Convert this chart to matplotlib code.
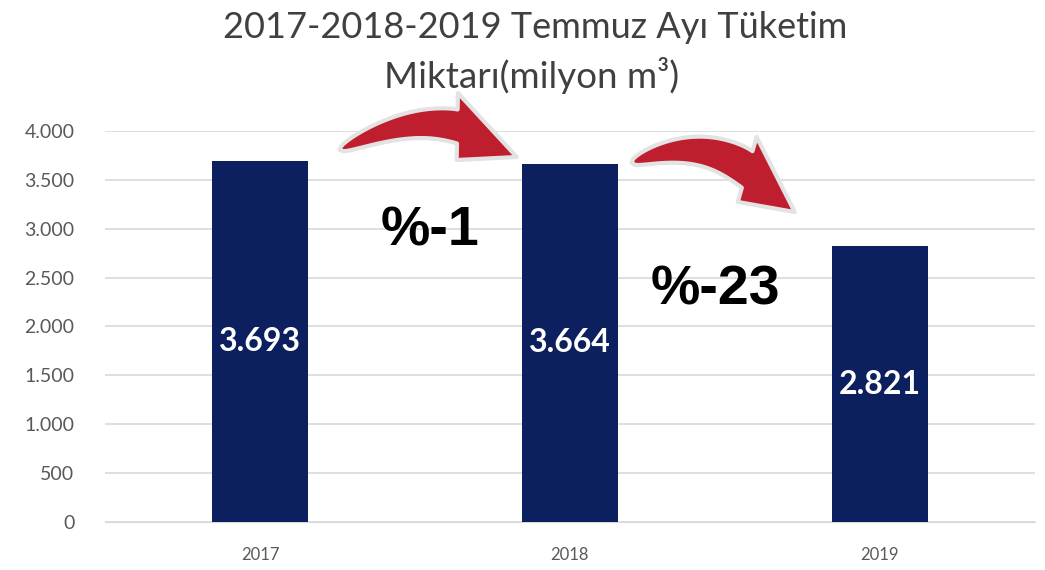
import numpy as np
import matplotlib.pyplot as plt
import matplotlib.transforms as mtransforms
from matplotlib.patches import Polygon
from matplotlib.ticker import FuncFormatter

years = ["2017", "2018", "2019"]
consumption = [3693, 3664, 2821]
value_labels = ["3.693", "3.664", "2.821"]
change_labels = ["%-1", "%-23"]

BAR_COLOR = "#0c1f5f"
ARROW_COLOR = "#be1e2d"
TEXT_GREY = "#595959"

plt.rcParams["font.family"] = ["Lato", "DejaVu Sans"]

fig = plt.figure(figsize=(10.45, 5.7), dpi=100)
ax = fig.add_axes([0.1005, 0.0842, 0.8895, 0.6860])

x = list(range(len(years)))
bars = ax.bar(x, consumption, width=0.31, color=BAR_COLOR, zorder=3)

for xi, v, lab in zip(x, consumption, value_labels):
    ax.text(xi, v / 2, lab, ha="center", va="center", color="white",
            fontsize=23, fontweight="bold", zorder=4)

ax.set_xlim(-0.5, 2.5)
ax.set_ylim(0, 4000)
ax.set_yticks(range(0, 4001, 500))
ax.yaxis.set_major_formatter(FuncFormatter(lambda v, p: f"{int(v):,}".replace(",", ".")))
ax.set_xticks(x)
ax.set_xticklabels(years)
ax.tick_params(axis="y", length=0, labelsize=14, labelcolor=TEXT_GREY, pad=22)
ax.tick_params(axis="x", length=0, labelsize=12, labelcolor=TEXT_GREY, pad=18)
ax.grid(axis="y", color="#d9d9d9", linewidth=1.2, zorder=0)
for s in ["top", "right", "left"]:
    ax.spines[s].set_visible(False)
ax.spines["bottom"].set_color("#d9d9d9")

fig.text(0.512, 0.9333, "2017-2018-2019 Temmuz Ayı Tüketim", ha="center", va="baseline",
         fontsize=26, color="#404040")
fig.text(0.509, 0.8456, "Miktarı(milyon m³)", ha="center", va="baseline",
         fontsize=26.5, color="#404040")


def curved_arrow(tail, ctrl, head_a, tip, head_b, tail_w, n=60):
    # tapered quadratic-bezier shaft ending at the middle of the head base
    P0, C, A, T, B = [ax.transData.transform(p) for p in (tail, ctrl, head_a, tip, head_b)]
    P1 = (A + B) / 2
    t = np.linspace(0, 1, n)[:, None]
    pts = (1 - t) ** 2 * P0 + 2 * (1 - t) * t * C + t ** 2 * P1
    der = 2 * (1 - t) * (C - P0) + 2 * t * (P1 - C)
    nrm = np.column_stack([-der[:, 1], der[:, 0]])
    nrm /= np.linalg.norm(nrm, axis=1)[:, None]
    base_dir = (A - B) / np.linalg.norm(A - B)
    if np.dot(base_dir, nrm[-1]) < 0:
        base_dir = -base_dir
    blend = np.clip((t - 0.7) / 0.3, 0, 1)
    nrm = nrm * (1 - blend) + base_dir * blend
    nrm /= np.linalg.norm(nrm, axis=1)[:, None]
    w = tail_w / 2 * t ** 0.45
    upper = pts + nrm * w
    lower = pts - nrm * w
    if np.dot(A - P1, nrm[-1]) > 0:
        ha, hb = A, B
    else:
        ha, hb = B, A
    poly = np.vstack([upper, ha, T, hb, lower[::-1]])
    patch = Polygon(poly, closed=True, facecolor=ARROW_COLOR, edgecolor="#e3e3e3",
                    linewidth=3, joinstyle="round", transform=mtransforms.IdentityTransform(),
                    clip_on=False, zorder=5)
    fig.add_artist(patch)


# tail, control, head corner, head tip, head corner (data coords)
curved_arrow((0.258, 3806), (0.484, 4164), (0.639, 4389), (0.829, 3734), (0.635, 3703), 34)
curved_arrow((1.200, 3673), (1.419, 3959), (1.603, 3939), (1.726, 3171), (1.542, 3274), 38)

ax.text(0.55, 2970, change_labels[0], ha="center", va="center", fontsize=40,
        fontweight="bold", family=["Liberation Sans", "DejaVu Sans"], zorder=6)
ax.text(1.47, 2370, change_labels[1], ha="center", va="center", fontsize=40,
        fontweight="bold", family=["Liberation Sans", "DejaVu Sans"], zorder=6)

fig.savefig("out.png", dpi=100, facecolor="white")
